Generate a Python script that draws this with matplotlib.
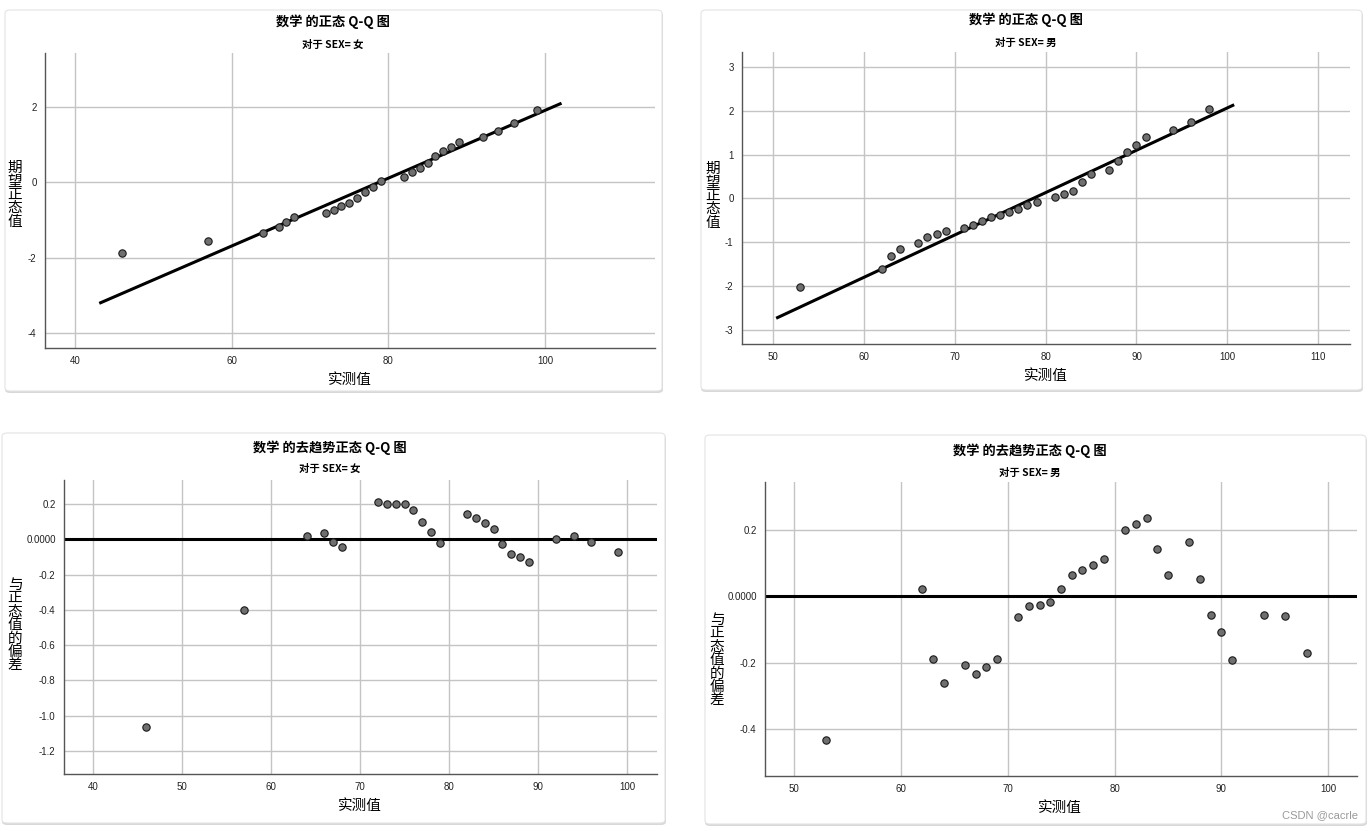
import matplotlib
matplotlib.use("Agg")
import matplotlib.pyplot as plt
from matplotlib.patches import FancyBboxPatch
from matplotlib.ticker import FixedLocator

plt.rcParams['font.family'] = ['Noto Sans CJK SC', 'DejaVu Sans']
plt.rcParams['axes.unicode_minus'] = False

# ---------------- data ----------------
female_x = [46, 57, 64, 66, 67, 68, 72, 73, 74, 75, 76, 77, 78, 79,
            82, 83, 84, 85, 86, 87, 88, 89, 92, 94, 96, 99]
female_expected = [-1.89, -1.57, -1.35, -1.19, -1.05, -0.93, -0.82, -0.73, -0.63, -0.54,
                   -0.42, -0.27, -0.12, 0.04, 0.15, 0.27, 0.39, 0.50, 0.69, 0.83,
                   0.94, 1.06, 1.20, 1.36, 1.58, 1.91]
female_dev = [-1.066, -0.400, 0.021, 0.036, -0.013, -0.043, 0.209, 0.200, 0.198, 0.200,
              0.166, 0.098, 0.040, -0.019, 0.142, 0.119, 0.092, 0.058, -0.026, -0.083,
              -0.102, -0.130, 0.002, 0.019, -0.017, -0.072]
female_mean, female_sd = 78.8, 11.1
female_line_x = [43.3, 101.9]

male_x = [53, 62, 63, 64, 66, 67, 68, 69, 71, 72, 73, 74, 75, 76, 77, 78, 79,
          81, 82, 83, 84, 85, 87, 88, 89, 90, 91, 94, 96, 98]
male_expected = [-2.03, -1.61, -1.32, -1.15, -1.005, -0.88, -0.81, -0.74, -0.68, -0.60,
                 -0.52, -0.43, -0.37, -0.30, -0.24, -0.145, -0.08, 0.03, 0.11, 0.18,
                 0.38, 0.56, 0.65, 0.85, 1.06, 1.22, 1.39, 1.55, 1.74, 2.05]
male_dev = [-0.434, 0.022, -0.189, -0.261, -0.208, -0.234, -0.213, -0.188, -0.062, -0.029,
            -0.026, -0.016, 0.023, 0.065, 0.080, 0.096, 0.113, 0.201, 0.219, 0.236,
            0.142, 0.065, 0.164, 0.053, -0.057, -0.108, -0.192, -0.055, -0.059, -0.172]
male_mean, male_sd = 78.63, 10.35
male_line_x = [50.5, 100.6]

qq_title = "数学 的正态 Q-Q 图"
dt_title = "数学 的去趋势正态 Q-Q 图"
sub_female = "对于 SEX= 女"
sub_male = "对于 SEX= 男"
xlabel = "实测值"
ylabel_qq = "期望正态值"
ylabel_dt = "与正态值的偏差"

tl_xticks = [40, 60, 80, 100]
tl_yticks = [-4, -2, 0, 2]
tr_xticks = [50, 60, 70, 80, 90, 100, 110]
tr_yticks = [-3, -2, -1, 0, 1, 2, 3]
bl_xticks = [40, 50, 60, 70, 80, 90, 100]
bl_yticks = [-1.2, -1.0, -0.8, -0.6, -0.4, -0.2, 0.0, 0.2]
bl_ylabels = ["-1.2", "-1.0", "-0.8", "-0.6", "-0.4", "-0.2", "0.0000", "0.2"]
br_xticks = [50, 60, 70, 80, 90, 100]
br_yticks = [-0.4, -0.2, 0.0, 0.2]
br_ylabels = ["-0.4", "-0.2", "0.0000", "0.2"]

# ---------------- layout ----------------
W, H = 1371, 831
fig = plt.figure(figsize=(W / 100, H / 100), dpi=100)
fig.patch.set_facecolor('white')
TICK_FONT = ['Liberation Sans', 'DejaVu Sans']


def frac_rect(l, t, r, b):
    return [l / W, 1 - b / H, (r - l) / W, (b - t) / H]


def card(l, t, r, b):
    sh = FancyBboxPatch((l / W, 1 - (b + 2) / H), (r - l + 1) / W, (b - t) / H,
                        boxstyle="round,pad=0,rounding_size=0.004",
                        transform=fig.transFigure, facecolor='#d8d8d8',
                        edgecolor='none', zorder=-3)
    fig.patches.append(sh)
    p = FancyBboxPatch((l / W, 1 - b / H), (r - l) / W, (b - t) / H,
                       boxstyle="round,pad=0,rounding_size=0.004",
                       transform=fig.transFigure, facecolor='white',
                       edgecolor='#e4e4e4', linewidth=0.8, zorder=-2)
    fig.patches.append(p)


def ftext(x, y, s, **kw):
    fig.text(x / W, 1 - y / H, s, ha='center', va='center', **kw)


def style_axes(ax, xlim, ylim, xticks, yticks, ylabels=None):
    ax.set_zorder(1)
    ax.set_xlim(*xlim)
    ax.set_ylim(*ylim)
    ax.xaxis.set_major_locator(FixedLocator(xticks))
    ax.yaxis.set_major_locator(FixedLocator(yticks))
    ax.set_xticklabels([str(v) for v in xticks], family=TICK_FONT)
    if ylabels is None:
        ylabels = [str(v) for v in yticks]
    ax.set_yticklabels(ylabels, family=TICK_FONT)
    ax.grid(True, color='#c4c4c4', linewidth=1.0)
    ax.set_axisbelow(True)
    for s in ['top', 'right']:
        ax.spines[s].set_visible(False)
    for s in ['left', 'bottom']:
        ax.spines[s].set_color('#555555')
        ax.spines[s].set_linewidth(1.0)
    ax.tick_params(length=0, labelsize=7, labelcolor='#222222', pad=6)
    ax.patch.set_alpha(0)


card(5, 10, 662, 391)
card(701, 10, 1362, 390)
card(2, 433, 665, 823)
card(705, 435, 1366, 824)

marker_kw = dict(s=28, facecolor='#6f6f6f', edgecolor='#1a1a1a', linewidths=0.8, zorder=3)

# Top-left: female Q-Q
ax = fig.add_axes(frac_rect(45, 53, 655, 348))
style_axes(ax, (36.2, 114), (-4.4, 3.43), tl_xticks, tl_yticks)
ax.plot(female_line_x, [(v - female_mean) / female_sd for v in female_line_x],
        color='black', lw=2.2, zorder=2)
ax.scatter(female_x, female_expected, **marker_kw)
ftext(333, 22, qq_title, fontsize=9.5, fontweight='bold')
ftext(333, 45, sub_female, fontsize=7.5, fontweight='bold')
ftext(350, 380, xlabel, fontsize=10.5)
ftext(15, 195, "\n".join(ylabel_qq), fontsize=10.5, linespacing=0.95)

# Top-right: male Q-Q
ax = fig.add_axes(frac_rect(742, 52, 1350, 344))
style_axes(ax, (46.59, 113.5), (-3.32, 3.34), tr_xticks, tr_yticks)
ax.plot(male_line_x, [(v - male_mean) / male_sd for v in male_line_x],
        color='black', lw=2.2, zorder=2)
ax.scatter(male_x, male_expected, **marker_kw)
ftext(1026, 20, qq_title, fontsize=9.5, fontweight='bold')
ftext(1026, 43, sub_male, fontsize=7.5, fontweight='bold')
ftext(1046, 376, xlabel, fontsize=10.5)
ftext(713, 196, "\n".join(ylabel_qq), fontsize=10.5, linespacing=0.95)

# Bottom-left: female detrended
ax = fig.add_axes(frac_rect(64, 480, 657, 774))
style_axes(ax, (36.74, 103.37), (-1.33, 0.336), bl_xticks, bl_yticks, bl_ylabels)
ax.axhline(0, color='black', lw=2.2, zorder=2)
ax.scatter(female_x, female_dev, **marker_kw)
ftext(330, 448, dt_title, fontsize=9.5, fontweight='bold')
ftext(330, 469, sub_female, fontsize=7.5, fontweight='bold')
ftext(360, 806, xlabel, fontsize=10.5)
ftext(15, 625, "\n".join(ylabel_dt), fontsize=10.5, linespacing=0.95)

# Bottom-right: male detrended
ax = fig.add_axes(frac_rect(765, 482, 1357, 776))
style_axes(ax, (47.28, 102.7), (-0.542, 0.345), br_xticks, br_yticks, br_ylabels)
ax.axhline(0, color='black', lw=2.2, zorder=2)
ax.scatter(male_x, male_dev, **marker_kw)
ftext(1030, 451, dt_title, fontsize=9.5, fontweight='bold')
ftext(1030, 473, sub_male, fontsize=7.5, fontweight='bold')
ftext(1060, 808, xlabel, fontsize=10.5)
ftext(717, 660, "\n".join(ylabel_dt), fontsize=10.5, linespacing=0.95)

ftext(1320, 815, "CSDN @cacrle", fontsize=8, color='#9a9a9a', family=TICK_FONT)

fig.savefig("out.png", dpi=100, facecolor='white')
